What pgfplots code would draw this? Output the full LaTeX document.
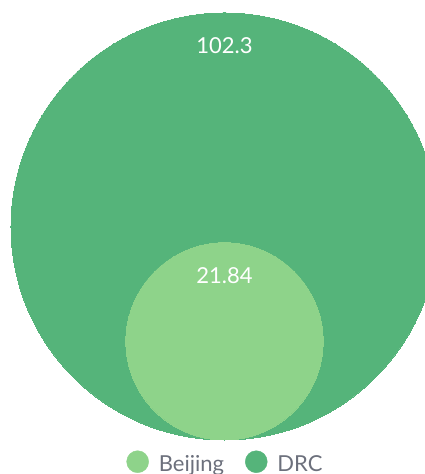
\documentclass[border=0pt]{standalone}
\usepackage{pgfplots}
\pgfplotsset{compat=1.18}
\usepackage{pgfplotstable}
\usepackage{fontspec}
\setmainfont{Lato}

\definecolor{drc}{HTML}{55B47A}
\definecolor{beijing}{HTML}{8ED38A}
\definecolor{legtext}{HTML}{6C707C}

% one bubble per series, area proportional to the value
\pgfplotstableread{
x v lab
224.5 102.3 102.3
}\drcdata
\pgfplotstableread{
x v lab
224.5 21.84 21.84
}\bjdata

% radius (pt) = 21.11*sqrt(value)
\pgfplotstablegetelem{0}{v}\of\drcdata
\pgfmathsetmacro\rdrc{21.11*sqrt(\pgfplotsretval)}
\pgfplotstablegetelem{0}{v}\of\bjdata
\pgfmathsetmacro\rbj{21.11*sqrt(\pgfplotsretval)}

\pgfplotsset{
  bubble/.style 2 args={
    color=#1, only marks, mark=*, mark size=#2pt,
    mark options={draw=#1, fill=#1, line width=0pt},
    point meta=explicit symbolic,
    nodes near coords,
    nodes near coords style={anchor=center, text=white,
      font=\fontsize{22}{26}\selectfont, yshift=#2pt-33pt},
    legend image code/.code={\fill[#1] (11pt,3pt) circle[radius=11pt];},
  }
}

\begin{document}
\begin{tikzpicture}
\begin{axis}[
  scale only axis, width=424pt, height=474pt,
  xmin=0, xmax=424, ymin=0, ymax=474,
  hide axis, clip=false,
  reverse legend,
  legend columns=-1,
  legend cell align=left,
  legend style={draw=none, fill=none, at={(axis cs:224.5,12)}, anchor=center,
    font=\fontsize{22}{26}\selectfont, text=legtext, inner sep=0pt,
    nodes={inner sep=0pt},
    /tikz/every odd column/.append style={column sep=10pt},
    /tikz/every even column/.append style={column sep=21pt}},
]
\addplot[bubble={drc}{\rdrc}] table[x=x, y expr=34+21.11*sqrt(\thisrow{v}), meta=lab] {\drcdata};
\addlegendentry{DRC}
\addplot[bubble={beijing}{\rbj}] table[x=x, y expr=34+21.11*sqrt(\thisrow{v}), meta=lab] {\bjdata};
\addlegendentry{Beijing}
\end{axis}
\pgfresetboundingbox
\useasboundingbox (current axis.south west) rectangle (current axis.north east);
\end{tikzpicture}
\end{document}
